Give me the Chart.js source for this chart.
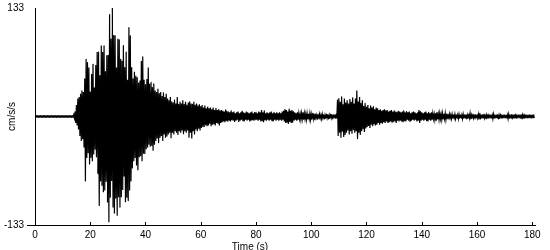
<!DOCTYPE html>
<html><head><meta charset="utf-8">
<script src="https://cdn.jsdelivr.net/npm/chart.js@4"></script>
<style>html,body{margin:0;padding:0;background:#fff}canvas{display:block}</style>
</head><body>
<canvas id="c" width="550" height="250"></canvas>
<script>
// Seismogram read as peak values per 0.5 s window (cm/s/s)
const binSeconds = 0.5;
const peakHigh = [
  1,1,1,1,1,1,1,1,1,1,1,1,1,1,1,1,1,1,1,1,                        // 0-10 s
  1,1,1,1,1,1,1,1,2,6,14,22,24,28,32,30,46,70,66,60,              // 10-20
  30,52,64,35,63,79,79,50,87,79,87,55,75,75,125,95,133,100,99,60, // 20-30
  95,94,70,68,87,60,79,45,109,99,60,46,55,50,48,41,44,68,73,45,   // 30-40
  39,46,60,40,42,36,40,32,30,34,28,30,25,29,24,28,22,20,24,18,    // 40-50
  17,20,16,24,15,18,16,20,15,18,14,17,18,16,15,18,14,16,13,15,    // 50-60
  12,14,11,13,10,12,10,11,9,11,8,10,8,9,7,8,7,6,8,6,              // 60-70
  6,5,7,5,6,4,5,6,4,5,7,5,4,6,5,4,5,6,4,5,                        // 70-80
  5,4,6,5,8,5,7,4,5,4,5,6,4,5,4,5,4,5,4,6,                        // 80-90
  7,9,8,6,9,7,8,6,5,4,5,4,3,4,5,4,3,4,3,4,                        // 90-100
  3,4,3,3,2,3,3,2,3,2,2,3,2,2,3,2,2,2,3,20,                       // 100-110
  22,18,24,15,22,17,20,16,21,18,23,16,22,32,18,24,16,20,13,16,    // 110-120
  12,14,10,13,11,12,9,11,10,8,9,7,8,9,7,8,6,7,8,6,                // 120-130
  7,6,5,7,6,5,6,7,5,6,5,6,4,5,6,5,4,5,8,6,                        // 130-140
  5,4,5,6,4,5,4,5,4,3,4,5,3,4,3,4,3,4,3,3,                        // 140-150
  3,2,3,2,3,2,2,3,2,2,3,2,2,2,3,4,2,3,2,2,                        // 150-160
  2,3,4,2,2,3,2,2,3,2,2,2,3,2,2,2,2,3,2,2,                        // 160-170
  2,2,2,3,2,2,2,2,3,2,2,2,2,2,3,2,2,2,2,2,                        // 170-180
  2,2                                                             // 180-181
];
const peakLow = [
  -1,-1,-1,-1,-1,-1,-1,-1,-1,-1,-1,-1,-1,-1,-1,-1,-1,-1,-1,-1,
  -1,-1,-1,-1,-1,-1,-1,-1,-2,-8,-11,-16,-24,-30,-28,-38,-79,-51,-45,-58,
  -50,-55,-46,-40,-50,-70,-109,-79,-85,-93,-90,-80,-105,-129,-99,-79,-111,-119,-100,-121,
  -99,-111,-99,-90,-73,-105,-99,-103,-90,-79,-63,-55,-51,-60,-66,-50,-48,-55,-45,-46,
  -40,-38,-34,-36,-36,-42,-34,-30,-27,-32,-26,-24,-30,-22,-26,-24,-22,-20,-26,-20,
  -22,-18,-20,-22,-18,-20,-17,-21,-18,-20,-17,-26,-20,-27,-18,-22,-16,-18,-15,-17,
  -14,-12,-13,-10,-12,-11,-9,-12,-10,-9,-11,-8,-9,-11,-8,-7,-6,-7,-5,-6,
  -5,-6,-4,-5,-6,-5,-4,-6,-5,-4,-5,-6,-4,-5,-4,-6,-5,-4,-5,-4,
  -4,-5,-4,-6,-5,-7,-4,-5,-4,-5,-4,-5,-6,-4,-5,-4,-5,-4,-5,-4,
  -6,-8,-7,-9,-6,-8,-7,-5,-4,-5,-4,-3,-4,-3,-4,-3,-4,-3,-3,-4,
  -3,-3,-4,-2,-3,-3,-2,-3,-2,-3,-2,-2,-3,-2,-2,-3,-2,-2,-2,-24,
  -20,-26,-18,-25,-22,-20,-17,-22,-18,-21,-16,-20,-18,-27,-20,-22,-18,-15,-19,-14,
  -13,-11,-14,-10,-12,-9,-11,-10,-8,-10,-8,-9,-7,-8,-6,-8,-7,-6,-7,-6,
  -6,-8,-5,-6,-5,-6,-7,-5,-6,-4,-5,-6,-5,-4,-5,-4,-6,-5,-8,-5,
  -4,-5,-4,-5,-6,-4,-5,-4,-3,-4,-5,-3,-4,-3,-4,-3,-3,-4,-3,-3,
  -2,-3,-2,-2,-3,-2,-3,-2,-2,-3,-2,-2,-3,-2,-2,-3,-2,-2,-3,-2,
  -2,-3,-3,-2,-2,-2,-3,-2,-2,-2,-2,-3,-2,-2,-2,-3,-2,-2,-2,-2,
  -2,-2,-3,-2,-2,-3,-2,-2,-2,-2,-2,-2,-3,-2,-2,-2,-2,-2,-2,-2,
  -2,-2
];
const xTickValues = [0, 20, 40, 60, 80, 100, 120, 140, 160, 180];
const yTickValues = [-133, 133];
const xAxisTitle = 'Time (s)';
const yAxisTitle = 'cm/s/s';
const xMin = 0, xMax = 181, yMin = -133, yMax = 133;

const points = [];
peakHigh.forEach((h, i) => {
  const t = i * binSeconds;
  points.push({x: t, y: h});
  points.push({x: t + binSeconds / 2, y: peakLow[i]});
});

const FONT = 'Arial, "Liberation Sans", sans-serif';

const axisExtras = {
  id: 'axisExtras',
  afterDraw(chart) {
    const {ctx, chartArea} = chart;
    const x = chart.scales.x;
    ctx.save();
    ctx.strokeStyle = '#000';
    ctx.lineWidth = 1;
    ctx.beginPath();
    x.ticks.forEach(t => {
      const px = Math.round(x.getPixelForValue(t.value)) + 0.5;
      ctx.moveTo(px, chartArea.bottom);
      ctx.lineTo(px, chartArea.bottom - 3);
    });
    ctx.stroke();
    ctx.font = '10px ' + FONT;
    ctx.fillStyle = '#000';
    ctx.textAlign = 'center';
    ctx.textBaseline = 'alphabetic';
    ctx.fillText(xAxisTitle, 250, 250);
    ctx.restore();
  }
};

new Chart(document.getElementById('c'), {
  type: 'line',
  data: {
    datasets: [{
      data: points,
      borderColor: '#000',
      backgroundColor: '#000',
      borderWidth: 1.2,
      pointRadius: 0,
      tension: 0.01,
      fill: false
    }]
  },
  options: {
    responsive: false,
    animation: false,
    events: [],
    layout: {padding: {top: 5, right: 15, bottom: 0, left: 0}},
    plugins: {legend: {display: false}, tooltip: {enabled: false}},
    scales: {
      x: {
        type: 'linear', min: xMin, max: xMax,
        afterBuildTicks: s => { s.ticks = xTickValues.map(v => ({value: v})); },
        afterFit: s => { s.height = 25; },
        grid: {drawOnChartArea: false, drawTicks: false},
        border: {color: '#000', width: 1},
        ticks: {color: '#000', font: {family: FONT, size: 10}, padding: 4, maxRotation: 0, autoSkip: false,
                callback: v => String(v)}
      },
      y: {
        type: 'linear', min: yMin, max: yMax,
        afterBuildTicks: s => { s.ticks = yTickValues.map(v => ({value: v})); },
        afterFit: s => { s.width = 35; },
        grid: {drawOnChartArea: false, tickLength: 8,
               color: c => (c.tick && c.tick.value === yMin) ? '#000' : 'rgba(0,0,0,0)'},
        border: {color: '#000', width: 1},
        ticks: {color: '#000', font: {family: FONT, size: 10, lineHeight: 1}, padding: 3,
                callback: v => String(v)},
        title: {display: true, text: yAxisTitle, color: '#000', font: {family: FONT, size: 10},
                padding: {top: 6, bottom: 0}}
      }
    }
  },
  plugins: [axisExtras]
});
</script>
</body></html>
